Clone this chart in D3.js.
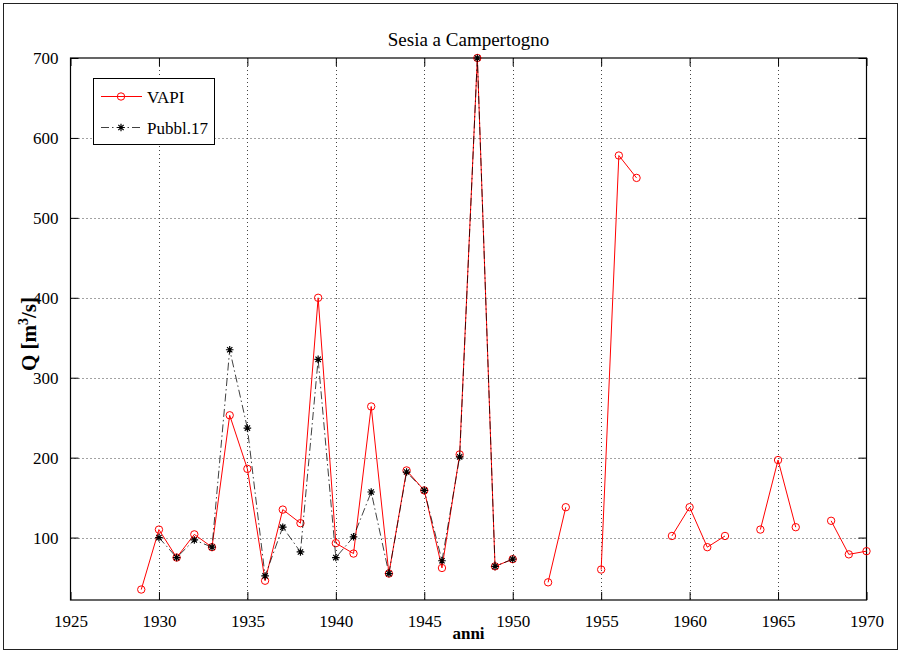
<!DOCTYPE html>
<html>
<head>
<meta charset="utf-8">
<script src="https://cdn.jsdelivr.net/npm/d3@7/dist/d3.min.js"></script>
<style>
  html, body { margin: 0; padding: 0; background: #fff; }
  svg { display: block; }
  svg text { font-family: 'Liberation Serif', 'DejaVu Serif', serif !important; }
</style>
</head>
<body>
<svg id="chart" width="902" height="654"></svg>
<script>
// ---- data ----
const years = d3.range(1929, 1971);
const vapi = [35, 110, 75, 104, 88, 253, 186, 46, 135, 118, 400, 93, 80, 264, 55, 184, 159, 62, 204, 700, 64, 73,
              null, 44, 138, null, 60, 578, 550, null, 102, 138, 88, 102, null, 110, 197, 113, null, 121, 79, 83];
const pubblYears = d3.range(1930, 1951);
const pubbl = [100, 75, 97, 88, 335, 237, 52, 113, 82, 323, 75, 101, 157, 55, 182, 159, 71, 201, 700, 64, 73];
const xTicks = [1925, 1930, 1935, 1940, 1945, 1950, 1955, 1960, 1965, 1970];
const yTicks = [100, 200, 300, 400, 500, 600, 700];
const seriesNames = ["VAPI", "Pubbl.17"];
const titleText = "Sesia a Campertogno";
const xLabel = "anni";

// ---- layout ----
const FONT = "'Liberation Serif', 'DejaVu Serif', serif";
const svg = d3.select("#chart");
const L = 70.5, R = 866.5, T = 58, B = 600;
const x = d3.scaleLinear().domain([1925, 1970]).range([L, R]);
const y = d3.scaleLinear().domain([21.9, 700]).range([B, T]);

// outer frame
svg.append("rect").attr("x", 3.5).attr("y", 3.5).attr("width", 894).attr("height", 646)
  .attr("fill", "#fff").attr("stroke", "#222").attr("stroke-width", 1);

const gridC = "#444";
// grid
const g = svg.append("g");
g.selectAll(".vg").data(xTicks.filter(d => d > 1925 && d < 1970)).enter().append("line")
  .attr("x1", d => Math.round(x(d)) + 0.5).attr("x2", d => Math.round(x(d)) + 0.5)
  .attr("y1", T).attr("y2", B).attr("stroke", gridC).attr("stroke-dasharray", "1,3");
g.selectAll(".hg").data(yTicks.filter(d => d < 700)).enter().append("line")
  .attr("y1", d => Math.round(y(d)) + 0.5).attr("y2", d => Math.round(y(d)) + 0.5)
  .attr("x1", L).attr("x2", R).attr("stroke", gridC).attr("stroke-dasharray", "1,3");

// axes with inward ticks
const tl = 8;
const axB = d3.axisBottom(x).tickValues(xTicks).tickFormat(d3.format("d")).tickSize(-tl).tickPadding(tl + 7);
const axT = d3.axisTop(x).tickValues(xTicks).tickFormat("").tickSize(-tl);
const axL = d3.axisLeft(y).tickValues(yTicks).tickFormat(d3.format("d")).tickSize(-tl).tickPadding(tl + 4);
const axR = d3.axisRight(y).tickValues(yTicks).tickFormat("").tickSize(-tl);
function styleAxis(sel) {
  sel.attr("font-family", FONT);
  sel.select(".domain").remove();
  sel.selectAll("line").attr("stroke", "#000");
  sel.selectAll("text").style("font-family", FONT).attr("font-size", 17).attr("fill", "#000");
}
svg.append("g").attr("transform", `translate(0,${B})`).call(axB).call(styleAxis);
svg.append("g").attr("transform", `translate(0,${T})`).call(axT).call(styleAxis);
svg.append("g").attr("transform", `translate(${L},0)`).call(axL).call(styleAxis);
svg.append("g").attr("transform", `translate(${R},0)`).call(axR).call(styleAxis);

// box
svg.append("rect").attr("x", L).attr("y", T).attr("width", R - L).attr("height", B - T)
  .attr("fill", "none").attr("stroke", "#000").attr("stroke-width", 1.2);

// series
const vData = years.map((yr, i) => ({ yr, v: vapi[i] }));
const pData = pubblYears.map((yr, i) => ({ yr, v: pubbl[i] }));
const line = d3.line().defined(d => d.v != null).x(d => x(d.yr)).y(d => y(d.v));

svg.append("path").datum(vData).attr("d", line).attr("fill", "none").attr("stroke", "#ff0000").attr("stroke-width", 1);
svg.selectAll(".vc").data(vData.filter(d => d.v != null)).enter().append("circle")
  .attr("cx", d => x(d.yr)).attr("cy", d => y(d.v)).attr("r", 3.7)
  .attr("fill", "none").attr("stroke", "#ff0000").attr("stroke-width", 1);

svg.append("path").datum(pData).attr("d", line).attr("fill", "none").attr("stroke", "#000")
  .attr("stroke-width", 1).attr("stroke-dasharray", "8,3,1.5,3").attr("stroke-opacity", 0.75);

function star(cx, cy, s) {
  const d = s * 0.7;
  return `M${cx - s},${cy}L${cx + s},${cy}M${cx},${cy - s}L${cx},${cy + s}` +
         `M${cx - d},${cy - d}L${cx + d},${cy + d}M${cx - d},${cy + d}L${cx + d},${cy - d}`;
}
svg.selectAll(".ps").data(pData).enter().append("path")
  .attr("d", d => star(x(d.yr), y(d.v), 3.8)).attr("stroke", "#000").attr("stroke-width", 1.2).attr("fill", "none");

// title and labels
svg.append("text").attr("x", (L + R) / 2).attr("y", 46).attr("text-anchor", "middle")
  .style("font-family", FONT).attr("font-size", 19).text(titleText);
svg.append("text").attr("x", (L + R) / 2).attr("y", 639).attr("text-anchor", "middle")
  .style("font-family", FONT).attr("font-size", 17).attr("font-weight", "bold").text(xLabel);
const yl = svg.append("text").attr("transform", `translate(36,${(T + B) / 2 + 5}) rotate(-90)`)
  .style("font-family", FONT).attr("text-anchor", "middle").attr("font-size", 21).attr("font-weight", "bold");
yl.append("tspan").text("Q [m");
yl.append("tspan").attr("dy", -8).attr("font-size", 14).text("3");
yl.append("tspan").attr("dy", 8).text("/s]");

// legend
const lg = svg.append("g");
lg.append("rect").attr("x", 93.5).attr("y", 78.5).attr("width", 121).attr("height", 66)
  .attr("fill", "#fff").attr("stroke", "#000").attr("stroke-width", 1);
const ly = [96.5, 127.5];
lg.append("line").attr("x1", 101).attr("x2", 142).attr("y1", ly[0]).attr("y2", ly[0]).attr("stroke", "#ff0000");
lg.append("circle").attr("cx", 121).attr("cy", ly[0]).attr("r", 3.7).attr("fill", "none").attr("stroke", "#ff0000");
lg.append("line").attr("x1", 101).attr("x2", 142).attr("y1", ly[1]).attr("y2", ly[1]).attr("stroke", "#000")
  .attr("stroke-dasharray", "8,3,1.5,3").attr("stroke-opacity", 0.75);
lg.append("path").attr("d", star(121, ly[1], 3.8)).attr("stroke", "#000").attr("stroke-width", 1.2);
lg.selectAll(".lt").data(seriesNames).enter().append("text")
  .attr("x", 147).attr("y", (d, i) => ly[i] + 6).style("font-family", FONT).attr("font-size", 17).text(d => d);
</script>
</body>
</html>
